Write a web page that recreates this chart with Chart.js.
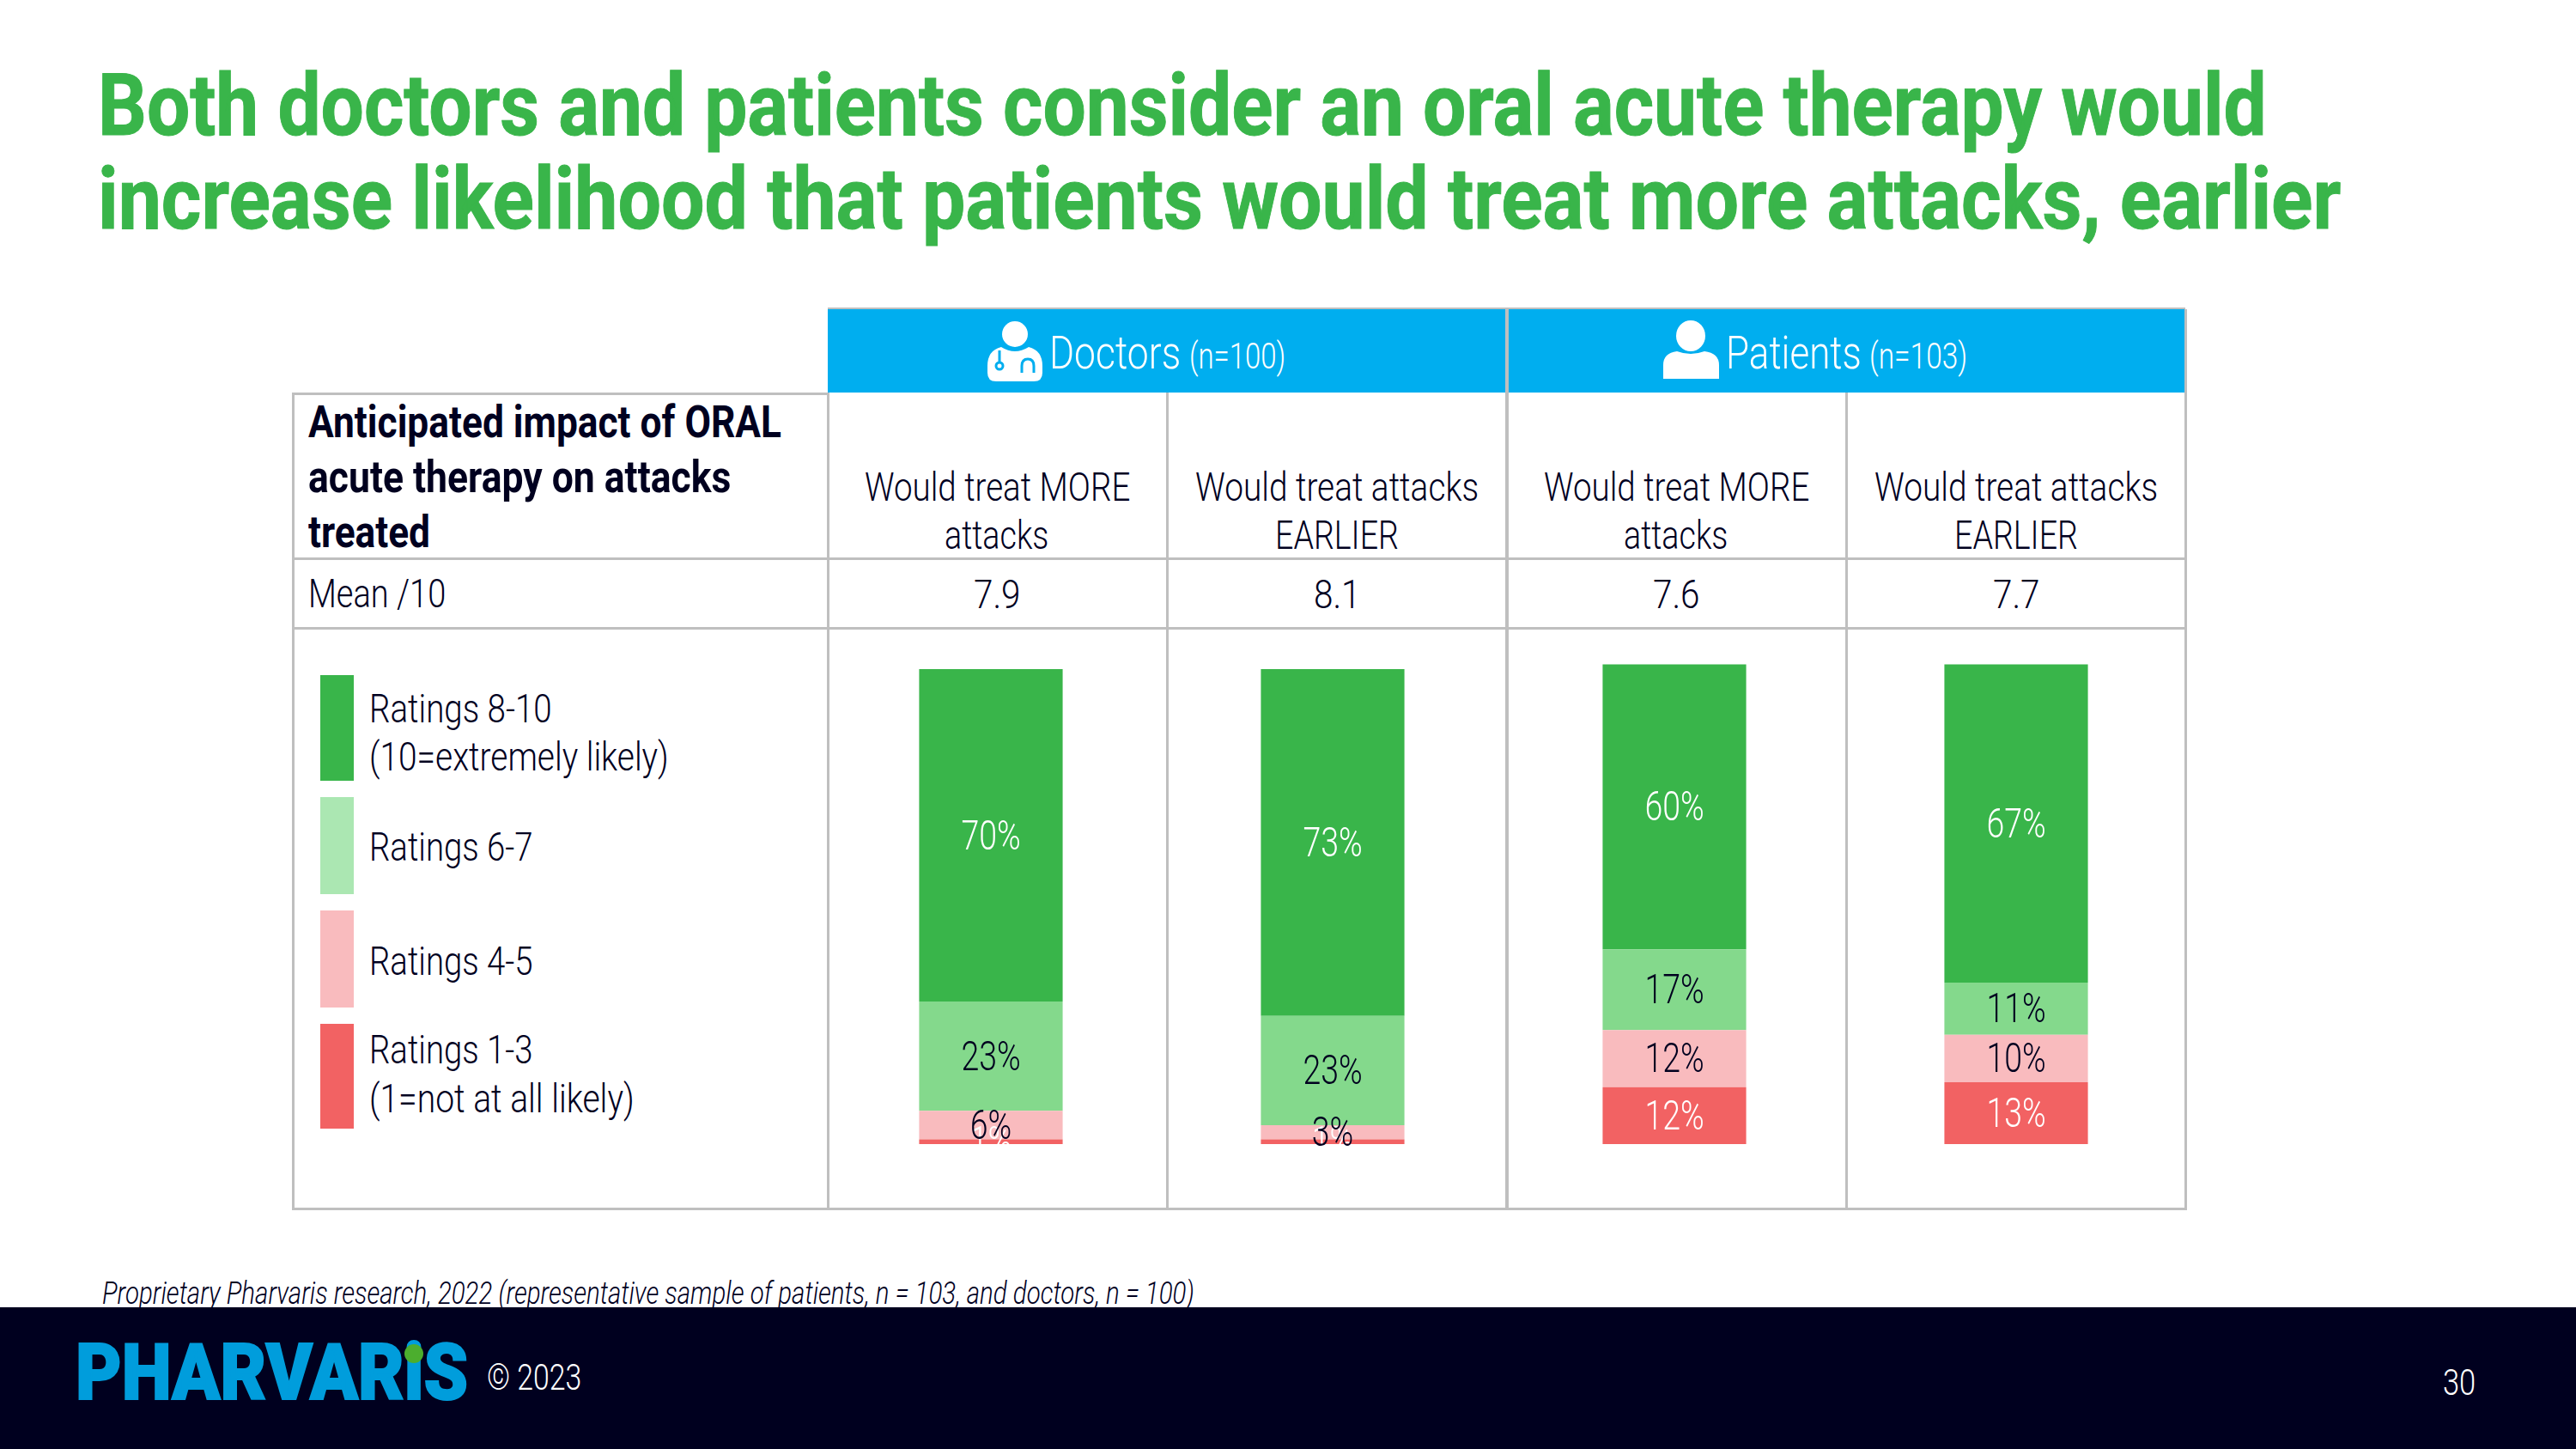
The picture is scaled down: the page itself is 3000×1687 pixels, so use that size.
<!DOCTYPE html>
<html>
<head>
<meta charset="utf-8">
<title>Oral acute therapy</title>
<script src="https://cdn.jsdelivr.net/npm/chart.js@4"></script>
<style>
  html, body { margin: 0; background: #fff; }
  #page { position: relative; width: 3000px; height: 1687px; overflow: hidden; font-family: Roboto, sans-serif; color: #00001f; }
  #page > * { position: absolute; }
  .t { white-space: nowrap; transform-origin: 0 50%; line-height: 1; font-weight: 300; }
  svg { display: block; }
</style>
</head>
<body>
<div id="page">
  <div style="left:0;top:1522px;width:3000px;height:165px;background:#00001f"></div>
  <div style="left:964px;top:360px;width:1581px;height:97px;background:#00aeef"></div>
  <svg style="left:1150px;top:374px" width="64" height="70" viewBox="0 0 64 70">
    <circle cx="32" cy="15" r="15" fill="#fff"/>
    <path d="M16 30 Q32 40 48 30 Q64 34 64 52 V60 Q64 70 54 70 H10 Q0 70 0 60 V52 Q0 34 16 30Z" fill="#fff"/>
    <circle cx="14" cy="52" r="4" fill="none" stroke="#00aeef" stroke-width="3"/>
    <path d="M14 48 V34 M40 60 V52 Q40 44 47 44 Q54 44 54 52 V60" fill="none" stroke="#00aeef" stroke-width="3"/>
  </svg>
  <svg style="left:1937px;top:373px" width="65" height="68" viewBox="0 0 65 68">
    <ellipse cx="32" cy="18" rx="17" ry="18" fill="#fff"/>
    <path d="M0 68 V52 Q0 38 16 36 Q32 42 48 36 Q65 38 65 52 V68Z" fill="#fff"/>
  </svg>
  <div id="dot" style="left:471px;top:1565px;width:22px;height:22px;border-radius:50%;background:#4cae2e;z-index:2"></div>
  <canvas id="chart" width="1592" height="630" style="left:955px;top:732px;z-index:3"></canvas>
</div>
<script>
const categories = ['Would treat MORE attacks', 'Would treat attacks EARLIER', 'Would treat MORE attacks', 'Would treat attacks EARLIER'];
const means = ['7.9', '8.1', '7.6', '7.7'];
const ratings8to10 = [70, 73, 60, 67];
const ratings6to7 = [23, 23, 17, 11];
const ratings4to5 = [6, 3, 12, 10];
const ratings1to3 = [1, 1, 12, 13];
const seriesNames = ['Ratings 8-10', 'Ratings 6-7', 'Ratings 4-5', 'Ratings 1-3'];

const GREEN = '#39b54a';
const MID_GREEN = '#84d98c';
const PINK = '#f9bbbe';
const RED = '#f26263';
const INK = '#00001f';
const LINE = '#bfbfbf';

const page = document.getElementById('page');

// width is the target ink width, the text gets squeezed to it (no Roboto Condensed here)
function text(str, x, y, size, opts = {}) {
  const el = document.createElement('div');
  el.className = 't';
  el.textContent = str;
  el.style.fontSize = size + 'px';
  el.style.left = x + 'px';
  el.style.top = (y - size / 2) + 'px';
  if (opts.weight) el.style.fontWeight = opts.weight;
  if (opts.color) el.style.color = opts.color;
  if (opts.italic) el.style.fontStyle = 'italic';
  if (opts.stroke) el.style.webkitTextStroke = opts.stroke + 'px currentColor';
  page.appendChild(el);
  const w = el.offsetWidth;
  const sx = opts.width ? opts.width / w : (opts.squeeze || 0.8);
  el.style.transform = `scaleX(${sx})`;
  if (opts.center) el.style.left = (x - w * sx / 2) + 'px';
  return el;
}

function rule(x, y, w, h, color = LINE) {
  const el = document.createElement('div');
  el.style.cssText = `left:${x}px;top:${y}px;width:${w}px;height:${h}px;background:${color}`;
  page.appendChild(el);
}

function swatch(y0, y1, color) {
  const el = document.createElement('div');
  el.style.cssText = `left:373px;top:${y0}px;width:39px;height:${y1 - y0}px;background:${color}`;
  page.appendChild(el);
}

// title
text('Both doctors and patients consider an oral acute therapy would', 114, 123, 100, { weight: 700, color: GREEN, width: 2526, stroke: 1 });
text('increase likelihood that patients would treat more attacks, earlier', 114, 232, 100, { weight: 700, color: GREEN, width: 2612, stroke: 1 });

// table grid
rule(964, 358, 1581, 2);
rule(341, 457, 623, 3);
rule(341, 649, 2204, 3);
rule(341, 730, 2204, 3);
rule(341, 1406, 2204, 3);
rule(340, 457, 3, 952);
rule(963, 457, 3, 952);
rule(1358, 457, 3, 952);
rule(1753, 360, 4, 1049);
rule(2149, 457, 3, 952);
rule(2544, 360, 3, 1049);

// header band
text('Doctors', 1222, 411, 54, { color: '#fff', width: 153 });
text('(n=100)', 1385, 415, 42, { color: '#fff', width: 112 });
text('Patients', 2010, 411, 54, { color: '#fff', width: 158 });
text('(n=103)', 2177, 415, 42, { color: '#fff', width: 114 });

// row headers
text('Anticipated impact of ORAL', 359, 492, 52, { weight: 700, width: 551 });
text('acute therapy on attacks', 359, 556, 52, { weight: 700, width: 492 });
text('treated', 359, 620, 52, { weight: 700, width: 142 });
text('Mean /10', 359, 690, 47, { width: 160 });

// column headers and means
const colCenters = [1161, 1557, 1952, 2348];
categories.forEach((c, i) => {
  const m = c.match(/^(Would treat (?:MORE|attacks)) (.*)$/);
  text(m[1], colCenters[i], 566, 47, { center: true, width: i % 2 ? 330 : 309 });
  text(m[2], colCenters[i], 622, 47, { center: true });
  text(means[i], colCenters[i], 691, 47, { center: true, squeeze: 0.86 });
});

// legend
swatch(786, 909, GREEN);
swatch(928, 1041, '#abe7b2');
swatch(1060, 1173, PINK);
swatch(1192, 1314, RED);
text(seriesNames[0], 430, 824, 47, { width: 213 });
text('(10=extremely likely)', 430, 880, 47, { width: 349 });
text(seriesNames[1], 430, 985, 47, { width: 191 });
text(seriesNames[2], 430, 1118, 47, { width: 191 });
text(seriesNames[3], 430, 1221, 47, { width: 191 });
text('(1=not at all likely)', 430, 1278, 47, { width: 309 });

// footnote and footer
text('Proprietary Pharvaris research, 2022 (representative sample of patients, n = 103, and doctors, n = 100)', 119, 1505, 37, { italic: true, width: 1272 });
text('PHARVARiS', 88, 1599, 90, { weight: 900, color: '#009ddc', width: 457, stroke: 2 });
text('© 2023', 567, 1603, 43, { color: '#fff', width: 110 });
text('30', 2845, 1610, 42, { color: '#fff', squeeze: 0.82 });

// value labels, squeezed like the rest of the slide
const barLabels = {
  id: 'barLabels',
  afterDatasetsDraw(chart) {
    const { ctx } = chart;
    chart.data.datasets.forEach((ds, d) => {
      chart.getDatasetMeta(d).data.forEach((bar, i) => {
        const mid = (bar.y + bar.base) / 2 + 4;
        ctx.save();
        ctx.translate(bar.x, mid);
        ctx.scale(0.78, 1);
        ctx.font = '300 48px Roboto';
        ctx.textAlign = 'center';
        ctx.textBaseline = 'middle';
        ctx.fillStyle = ds.labelColor[i];
        ctx.fillText(ds.data[i] + '%', 0, 0);
        ctx.restore();
      });
    });
  }
};

new Chart(document.getElementById('chart'), {
  type: 'bar',
  data: {
    labels: categories,
    datasets: [
      { label: seriesNames[3], data: ratings1to3, backgroundColor: RED, labelColor: ['#fff', '#fff', '#fff', '#fff'] },
      { label: seriesNames[2], data: ratings4to5, backgroundColor: PINK, labelColor: [INK, INK, INK, INK] },
      { label: seriesNames[1], data: ratings6to7, backgroundColor: MID_GREEN, labelColor: [INK, INK, INK, INK] },
      { label: seriesNames[0], data: ratings8to10, backgroundColor: GREEN, labelColor: ['#fff', '#fff', '#fff', '#fff'] }
    ]
  },
  options: {
    responsive: false,
    animation: false,
    layout: { padding: { bottom: 30 } },
    datasets: { bar: { categoryPercentage: 1, barPercentage: 0.42, borderWidth: 0 } },
    plugins: { legend: { display: false }, tooltip: { enabled: false } },
    scales: {
      x: { stacked: true, display: false },
      y: { stacked: true, display: false, min: 0, max: 108.5 }
    }
  },
  plugins: [barLabels]
});
</script>
</body>
</html>
